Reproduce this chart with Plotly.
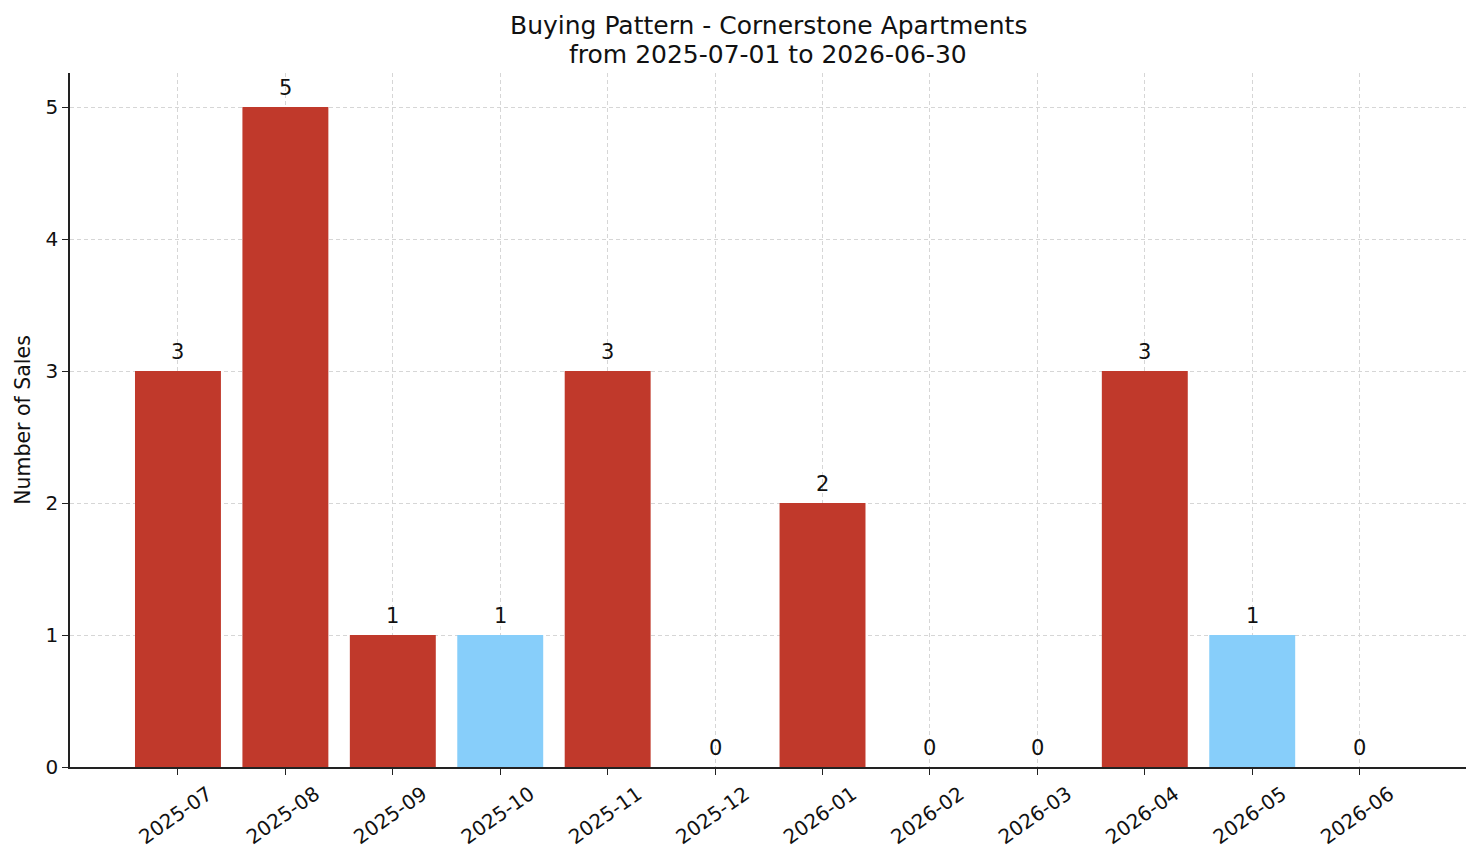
import plotly.graph_objects as go

months = ["2025-07", "2025-08", "2025-09", "2025-10", "2025-11", "2025-12",
          "2026-01", "2026-02", "2026-03", "2026-04", "2026-05", "2026-06"]
sales = [3, 5, 1, 1, 3, 0, 2, 0, 0, 3, 1, 0]
bar_colors = ["#C0392B", "#C0392B", "#C0392B", "#87CEFA", "#C0392B", "#C0392B",
              "#C0392B", "#C0392B", "#C0392B", "#C0392B", "#87CEFA", "#C0392B"]
title_lines = ["Buying Pattern - Cornerstone Apartments", "from 2025-07-01 to 2026-06-30"]

xpos = list(range(len(months)))
FONT = "DejaVu Sans, Liberation Sans, sans-serif"

fig = go.Figure()
fig.add_trace(go.Bar(x=xpos, y=sales, width=0.8, marker=dict(color=bar_colors, line=dict(width=0)),
                     showlegend=False, hoverinfo="skip"))

annotations = [
    dict(x=x, y=v, text=str(v), showarrow=False, xanchor="center", yanchor="bottom",
         yshift=5, font=dict(size=21, color="#111", family=FONT))
    for x, v in zip(xpos, sales)
]
# two-line title, placed as paper-referenced annotations
for line, ypaper in zip(title_lines, [1.0685, 1.0270]):
    annotations.append(dict(x=0.5, y=ypaper, xref="paper", yref="paper", text=line,
                            showarrow=False, xanchor="center", yanchor="middle",
                            font=dict(size=25, color="#111", family=FONT)))

fig.update_layout(
    width=1481, height=863,
    margin=dict(l=70, r=15, t=73, b=96),
    plot_bgcolor="white", paper_bgcolor="white",
    font=dict(family=FONT, size=20, color="#111"),
    annotations=annotations,
)
fig.update_xaxes(
    range=[-1.005, 11.99], tickmode="array", tickvals=xpos, ticktext=months,
    tickangle=-35, ticks="outside", ticklen=6, tickwidth=1.3, tickcolor="#222",
    showline=True, linecolor="#222", linewidth=1.5, mirror=False,
    showgrid=True, gridcolor="#d6d6d6", griddash="4px,3px", gridwidth=0.8,
    zeroline=False, layer="above traces", tickfont=dict(size=20),
    ticklabelshift=30,
)
fig.update_yaxes(
    range=[0, 5.258], tickvals=[0, 1, 2, 3, 4, 5], ticks="outside", ticklen=6, tickwidth=1.3,
    tickcolor="#222", showline=True, linecolor="#222", linewidth=1.5,
    showgrid=True, gridcolor="#d6d6d6", griddash="4px,3px", gridwidth=0.8,
    zeroline=False, layer="above traces", tickfont=dict(size=20),
    title=dict(text="Number of Sales", font=dict(size=20.5), standoff=9),
)

fig.write_html("out.html")
